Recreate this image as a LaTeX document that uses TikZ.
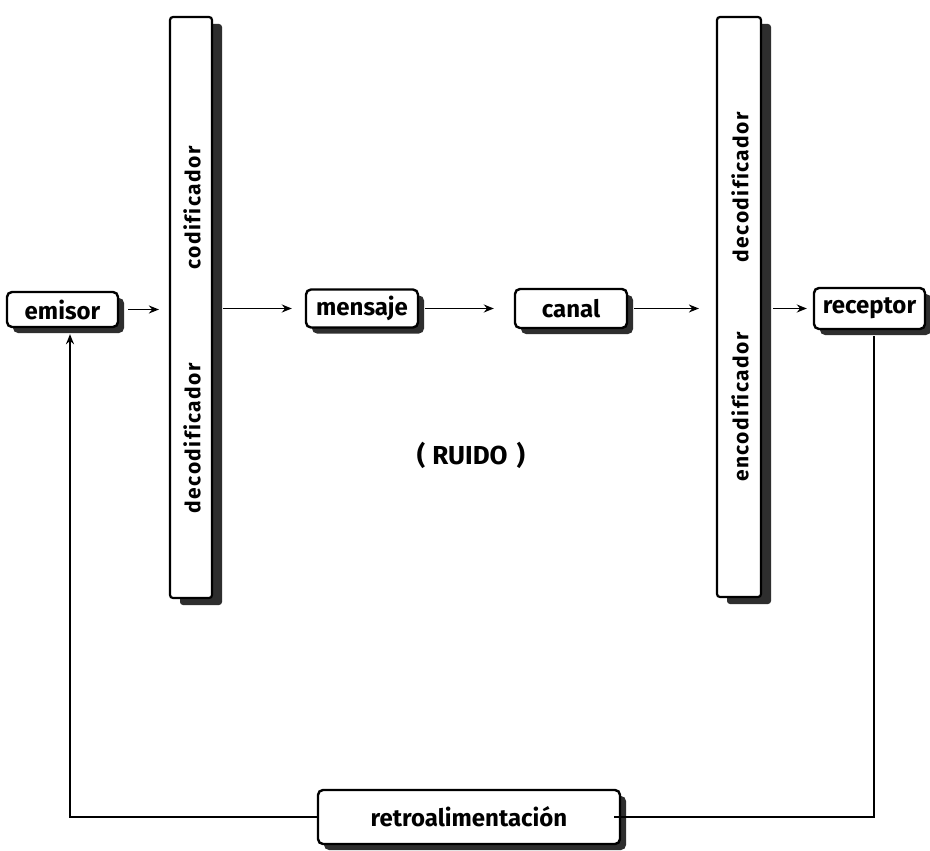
\documentclass[tikz,border=0pt]{standalone}
\usepackage{fontspec}
\setmainfont{Fira Sans}
\newfontfamily\barfont[LetterSpace=7,Ligatures=NoCommon]{Fira Sans}
\usetikzlibrary{shadows,arrows.meta}
\tikzset{
  shadowed/.style={drop shadow={shadow xshift=6pt, shadow yshift=-6pt, fill=black!82, opacity=1}},
  box/.style={draw, line width=2.4pt, rounded corners=5pt, fill=white, inner sep=0pt,
              font=\fontsize{24}{24}\selectfont\bfseries, shadowed},
  bar/.style={draw, line width=2.2pt, rounded corners=3pt, fill=white, inner sep=0pt,
              drop shadow={shadow xshift=10pt, shadow yshift=-7pt, fill=black!82, opacity=1}},
  barlbl/.style={rotate=90, inner sep=0pt, font=\fontsize{21}{21}\barfont\bfseries},
  arr/.style={-{Stealth[length=10pt,width=8pt]}, line width=1.6pt},
  fb/.style={line width=1.6pt}
}
\begin{document}
\begin{tikzpicture}[x=1pt,y=-1pt]
\useasboundingbox[fill=white] (0,0) rectangle (930,851);
% bars
\node[bar, minimum width=42pt, minimum height=581pt] (lbar) at (191,307.5) {};
\node[bar, minimum width=44pt, minimum height=580pt] (rbar) at (739,307) {};
\node[barlbl] (lcod) at (192,208) {codificador};
\node[barlbl] (ldec) at (192,438) {decodificador};
\node[barlbl] (rdec) at (740,187) {decodificador};
\node[barlbl] (renc) at (740,407) {encodificador};
% boxes
\node[box, minimum width=111pt, minimum height=35pt] (emisor) at (62.5,309.5) {emisor};
\node[box, minimum width=112pt, minimum height=38pt] (mensaje) at (362,308.5) {mensaje};
\node[box, minimum width=112pt, minimum height=39pt] (canal) at (571,308.5) {canal};
\node[box, minimum width=111pt, minimum height=41pt] (receptor) at (869.5,308.5) {receptor};
\node[box, minimum width=302pt, minimum height=54pt] (retro) at (469,817) {retroalimentación};
\node[font=\fontsize{26}{26}\selectfont\bfseries] (ruido) at (471,455) {(\hspace{7pt}RUIDO\hspace{9pt})};
% arrows
\draw[arr, shorten <=9pt, shorten >=10pt] (emisor.east) -- (lbar.west |- emisor.east);
\draw[arr, shorten <=10pt, shorten >=13pt] (lbar.east |- mensaje.west) -- (mensaje.west);
\draw[arr, shorten <=6pt, shorten >=20pt] (mensaje.east) -- (canal.west);
\draw[arr, shorten <=6pt, shorten >=17pt] (canal.east) -- (rbar.west |- canal.east);
\draw[arr, shorten <=11pt, shorten >=6pt] (rbar.east |- receptor.west) -- (receptor.west);
% feedback
\draw[fb, shorten <=6pt, shorten >=-7pt] ([xshift=4.5pt]receptor.south) |- (retro.east);
\draw[arr, shorten >=6pt] (retro.west) -| ([xshift=7.5pt]emisor.south);
\end{tikzpicture}
\end{document}
